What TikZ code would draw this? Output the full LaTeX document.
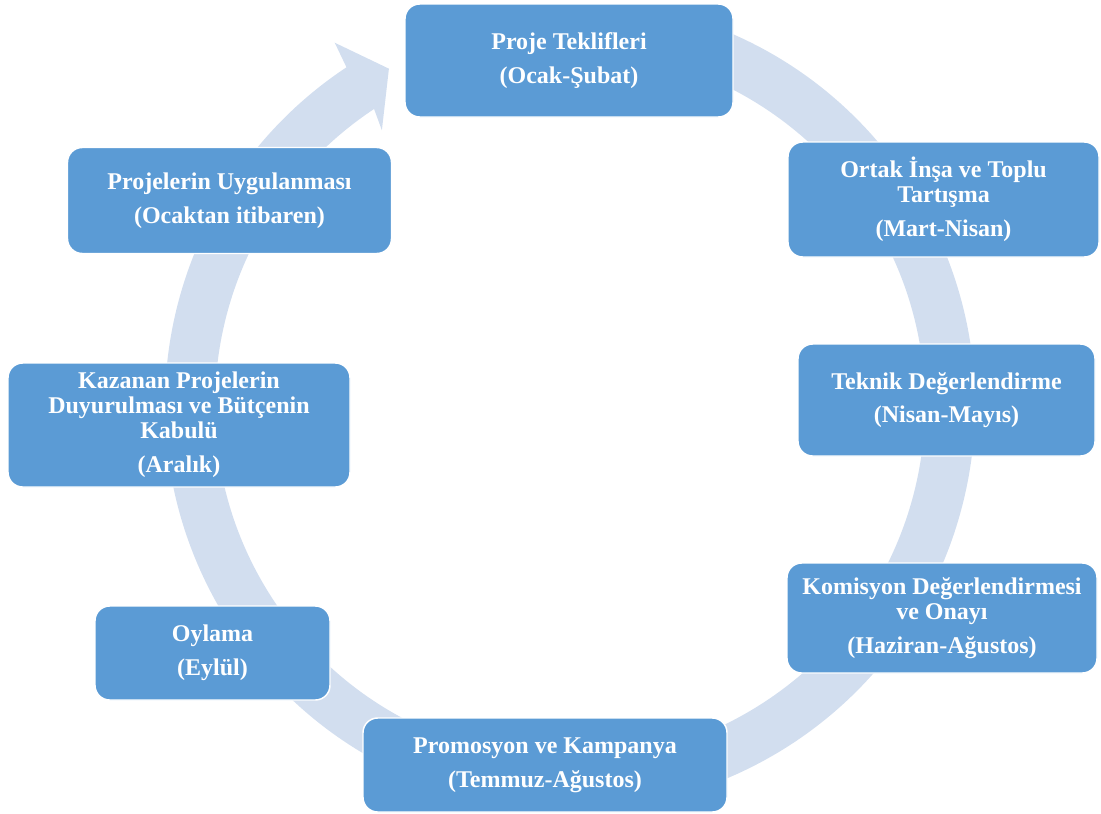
\documentclass[tikz,border=0pt]{standalone}
\usepackage{fontspec}
\setmainfont{Liberation Serif}
\definecolor{boxblue}{HTML}{5B9BD5}
\definecolor{ringblue}{HTML}{D2DEEF}
\begin{document}
\begin{tikzpicture}[x=0.75pt, y=-0.75pt,
  stage/.style={draw=white, line width=1.1pt, fill=boxblue, rounded corners=11pt,
    text=white, font=\fontsize{18}{18.75}\selectfont\bfseries, align=center, inner sep=0pt},
  ring/.style={fill=ringblue}]
\useasboundingbox (0,0) rectangle (1101,814);

% circular arrow running clockwise, its head ending at the first stage
\begin{scope}[shift={(570,405)}, yscale=-1]
  \path[ring] (75:405) arc[start angle=75, end angle=-236.5, radius=405]
    -- (123:432) -- (118.3:382) -- (124.4:333) -- (-236.5:355)
    arc[start angle=-236.5, end angle=75, radius=355] -- cycle;
\end{scope}

% stages of the cycle
\node[stage, minimum width=246pt, minimum height=84.75pt] (teklif) at (569,60.5)
  {Proje Teklifleri\\[6.5pt](Ocak-Şubat)};
\node[stage, minimum width=233.25pt, minimum height=86.25pt] (insa) at (943.5,199.5)
  {Ortak İnşa ve Toplu\\Tartışma\\[6.5pt](Mart-Nisan)};
\node[stage, minimum width=222.75pt, minimum height=84pt] (teknik) at (946.5,400)
  {Teknik Değerlendirme\\[6.5pt](Nisan-Mayıs)};
\node[stage, minimum width=232.5pt, minimum height=82.5pt] (komisyon) at (942,618)
  {Komisyon Değerlendirmesi\\ve Onayı\\[6.5pt](Haziran-Ağustos)};
\node[stage, minimum width=273pt, minimum height=70.5pt] (promosyon) at (545,765)
  {Promosyon ve Kampanya\\[6.5pt](Temmuz-Ağustos)};
\node[stage, minimum width=176.25pt, minimum height=70.5pt] (oylama) at (212.5,653)
  {Oylama\\[6.5pt](Eylül)};
\node[stage, minimum width=256.5pt, minimum height=93pt] (kazanan) at (179,425)
  {Kazanan Projelerin\\Duyurulması ve Bütçenin\\Kabulü\\[6.5pt](Aralık)};
\node[stage, minimum width=243pt, minimum height=79.5pt] (uygulama) at (229.5,200.5)
  {Projelerin Uygulanması\\[6.5pt](Ocaktan itibaren)};
\end{tikzpicture}
\end{document}
